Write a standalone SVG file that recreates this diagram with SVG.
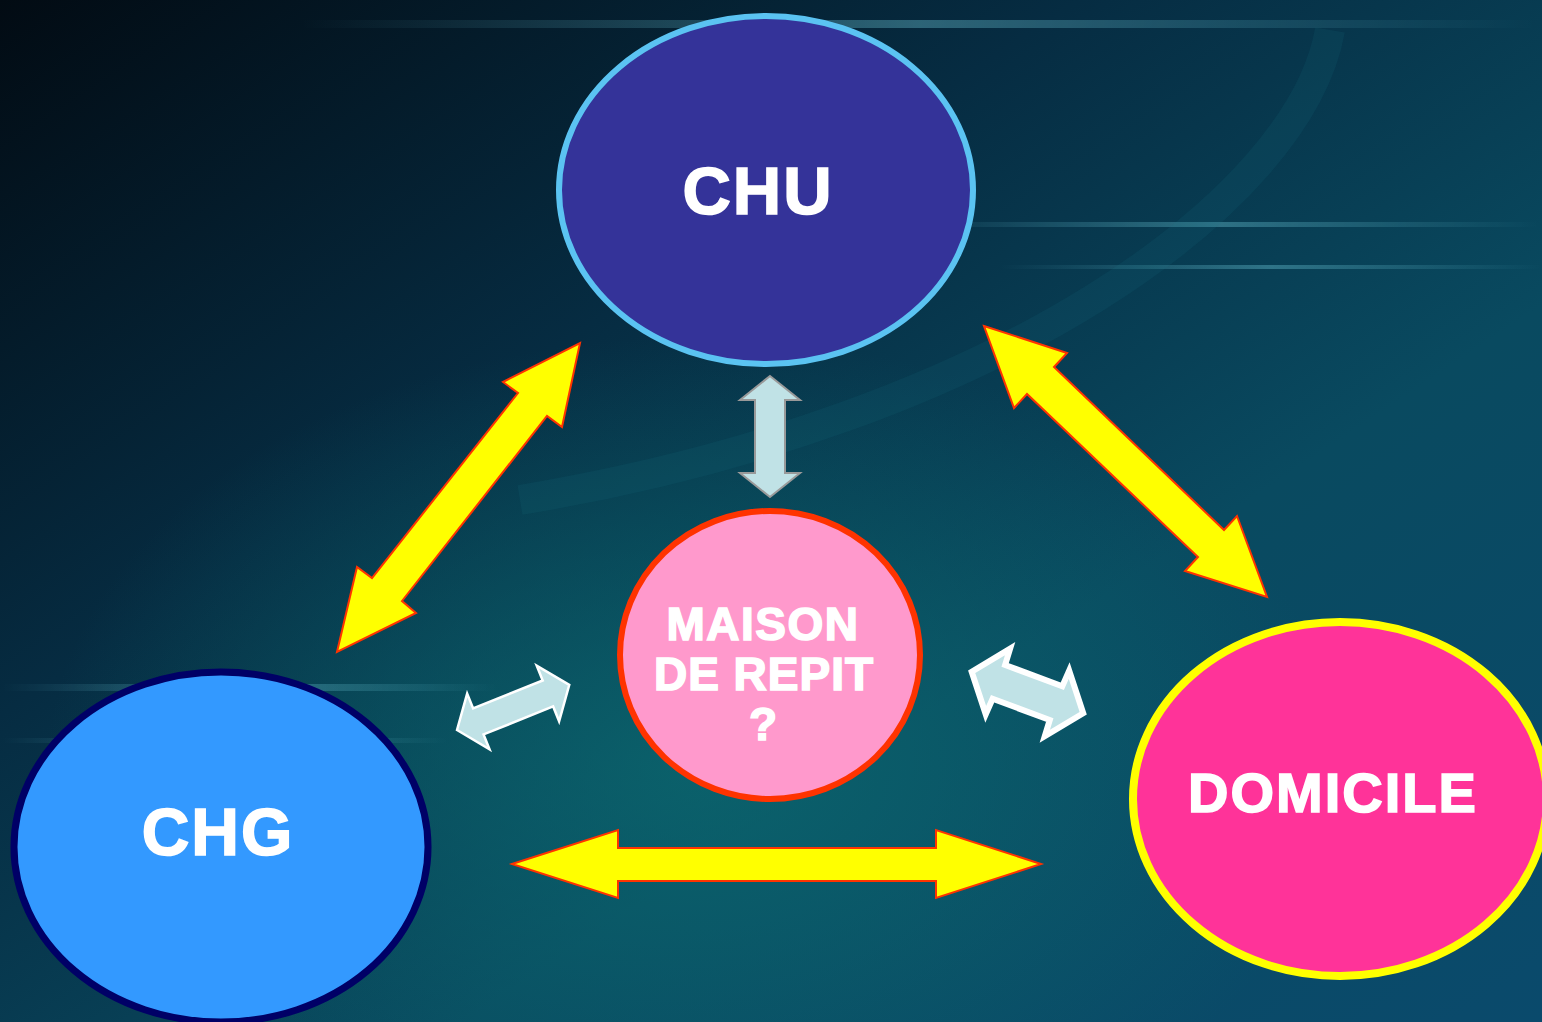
<svg xmlns="http://www.w3.org/2000/svg" width="1542" height="1022" viewBox="0 0 1542 1022">
<defs>
<linearGradient id="bg" x1="0" y1="0" x2="1" y2="1">
<stop offset="0" stop-color="#020b13"/>
<stop offset="0.35" stop-color="#062c42"/>
<stop offset="0.65" stop-color="#094a60"/>
<stop offset="1" stop-color="#0a4a6c"/>
</linearGradient>
<radialGradient id="glow" cx="0.45" cy="0.75" r="0.42">
<stop offset="0" stop-color="#0b6a70" stop-opacity="0.75"/>
<stop offset="1" stop-color="#0b6a70" stop-opacity="0"/>
</radialGradient>
<linearGradient id="streak" x1="0" y1="0" x2="1" y2="0">
<stop offset="0" stop-color="#7fe0f0" stop-opacity="0"/>
<stop offset="0.5" stop-color="#7fe0f0" stop-opacity="0.5"/>
<stop offset="1" stop-color="#7fe0f0" stop-opacity="0"/>
</linearGradient>
<style>
.yarrow{fill:#ffff00;stroke:#ff3300;stroke-width:2;stroke-linejoin:miter}
.carrow{fill:#c0e2e6}
.lbl{font-family:"Liberation Sans",Arial,sans-serif;font-weight:bold;fill:#ffffff;stroke:#ffffff;stroke-width:1.6;text-anchor:middle}
</style>
</defs>
<rect width="1542" height="1022" fill="url(#bg)"/>
<rect width="1542" height="1022" fill="url(#glow)"/>
<g opacity="0.65">
<rect x="300" y="20" width="1242" height="8" fill="url(#streak)"/>
<rect x="900" y="222" width="642" height="5" fill="url(#streak)"/>
<rect x="1000" y="265" width="542" height="4" fill="url(#streak)"/>
<rect x="0" y="684" width="500" height="7" fill="url(#streak)"/>
<rect x="0" y="738" width="450" height="5" fill="url(#streak)"/>
</g>
<path d="M1330 30 C1300 200 1000 420 520 500" fill="none" stroke="#1a7a8a" stroke-width="30" opacity="0.12"/>
<g id="connectors">
<polygon class="yarrow" points="580,343 562,427 547,416 402,601 416,613 337,652 357,567 372,578 518,393 503,382"/>
<polygon class="yarrow" points="984,326 1067,353 1054,367 1224,530 1237,516 1267,597 1185,571 1198,557 1027,394 1014,408"/>
<polygon class="yarrow" points="512,864 618,830 618,848 936,848 936,830 1041,864 936,898 936,881 618,881 618,898"/>
<polygon class="carrow" stroke="#999999" stroke-width="2" points="770,376 800,400 785,400 785,473 800,473 770,497 740,473 755,473 755,400 740,400"/>
<polygon class="carrow" stroke="#ffffff" stroke-width="2.5" transform="translate(457,730) rotate(-21.9)" points="0,0 23,-30 23,-14 98,-14 98,-30 121,0 98,30 98,14 23,14 23,30"/>
<polygon class="carrow" stroke="#ffffff" stroke-width="6" transform="translate(967,670) rotate(20.4)" points="5,0 33,-35 34,-18 95,-18 96,-35 124,0 96,35 95,18 34,18 33,35"/>
</g>
<g id="node-chu">
<ellipse cx="766" cy="190" rx="207" ry="174" fill="#343399" stroke="#5bc3f2" stroke-width="6"/>
<text class="lbl" x="758" y="214" font-size="67" letter-spacing="2">CHU</text>
</g>
<g id="node-maison">
<ellipse cx="770" cy="655" rx="150" ry="144" fill="#ff99cc" stroke="#ff3300" stroke-width="6"/>
<text class="lbl" x="763" y="640" font-size="46" letter-spacing="1.5">MAISON</text>
<text class="lbl" x="764" y="690" font-size="46" letter-spacing="1">DE REPIT</text>
<text class="lbl" x="763" y="740" font-size="46">?</text>
</g>
<g id="node-chg">
<ellipse cx="221" cy="847" rx="207" ry="175" fill="#3399ff" stroke="#000066" stroke-width="7"/>
<text class="lbl" x="218" y="855" font-size="66" letter-spacing="2">CHG</text>
</g>
<g id="node-domicile">
<ellipse cx="1340" cy="799" rx="207" ry="177" fill="#ff3399" stroke="#ffff00" stroke-width="8"/>
<text class="lbl" x="1333" y="812" font-size="56" letter-spacing="2">DOMICILE</text>
</g>
</svg>
